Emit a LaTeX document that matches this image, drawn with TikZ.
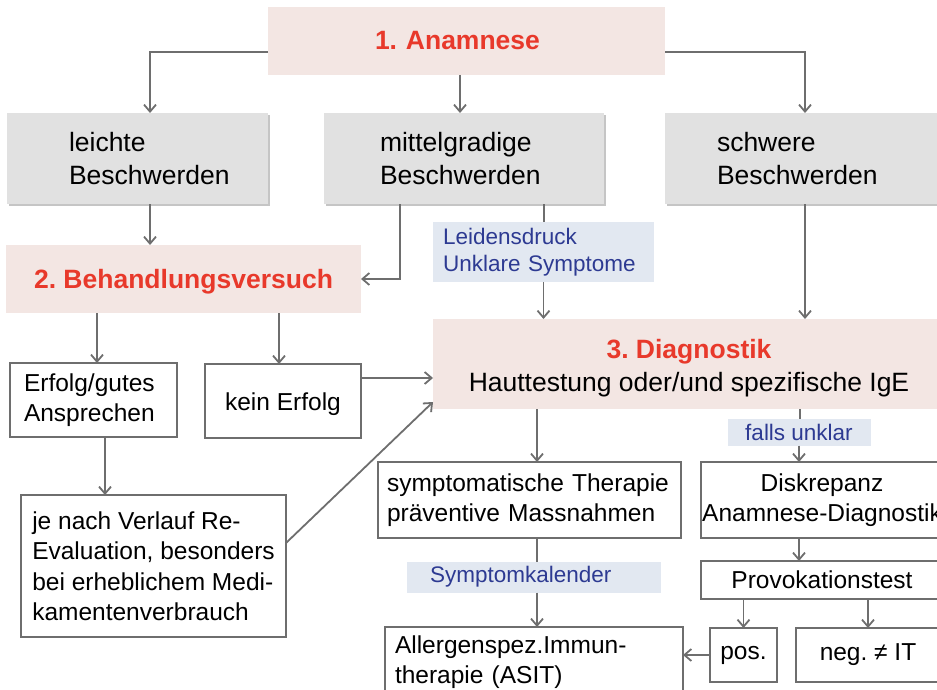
\documentclass[tikz,border=0pt]{standalone}
\usepackage{fontspec}
\setmainfont{Liberation Sans}
\usetikzlibrary{arrows.meta,shadows}
\definecolor{pinkfill}{HTML}{F3E6E3}
\definecolor{grayfill}{HTML}{E1E1E1}
\definecolor{lblfill}{HTML}{E2E8F1}
\definecolor{lbltext}{HTML}{2D3A92}
\definecolor{redtxt}{HTML}{E8392B}
\definecolor{linegray}{HTML}{6E6E6E}
\begin{document}
\frenchspacing
\begin{tikzpicture}[x=1pt,y=-1pt,
  base/.style={inner sep=0pt, outer sep=0pt, execute at begin node={\hyphenpenalty=10000\relax}},
  pinkbox/.style={base, fill=pinkfill, align=center},
  graybox/.style={base, fill=grayfill, align=left,
    drop shadow={shadow xshift=1.5pt, shadow yshift=-2pt, fill=black!45, opacity=0.5}},
  whitebox/.style={base, draw=linegray, line width=1.6pt, fill=white},
  lbl/.style={base, fill=lblfill, text=lbltext},
  ln/.style={draw=linegray, line width=1.8pt},
  arr/.style={ln, -{Straight Barb[length=7pt,width=12pt]}},
  bigf/.style={font=\fontsize{26.5}{33}\selectfont},
  midf/.style={font=\fontsize{24.5}{30.5}\selectfont},
  lblf/.style={font=\fontsize{22.5}{27}\selectfont},
]
\useasboundingbox (0,0) rectangle (937,690);
\fill[white] (0,0) rectangle (937,690);
\clip (0,0) rectangle (937,690);

% row 1
\node[pinkbox, bigf, text=redtxt, minimum width=397, minimum height=68, text width=183, align=left] (anam) at (466.5,41) {\textbf{1. Anamnese}};

% row 2
\node[graybox, bigf, minimum width=261, minimum height=91, text width=137] (leicht) at (137.5,158.5) {leichte\\Beschwerden};
\node[graybox, bigf, minimum width=280, minimum height=91, text width=168] (mittel) at (464,158.5) {mittelgradige\\Beschwerden};
\node[graybox, bigf, minimum width=295, minimum height=91, text width=191] (schwer) at (812.5,158.5) {schwere\\Beschwerden};

% row 3
\node[pinkbox, bigf, text=redtxt, minimum width=355, minimum height=68] (behand) at (183.5,279) {\rule{0pt}{25.5pt}\textbf{2. Behandlungsversuch}};
\node[lbl, lblf, minimum width=221, minimum height=60, text width=201, align=left] (leid) at (543.5,252) {Leidensdruck\\Unklare Symptome};
\node[pinkbox, bigf, minimum width=512, minimum height=90] (diag) at (689,364) {\rule{0pt}{28pt}\textcolor{redtxt}{\textbf{3. Diagnostik}}\\Hauttestung oder/und spezifische IgE};

% row 4
\node[whitebox, midf, minimum width=167, minimum height=74, text width=139, align=left] (erfolg) at (93.5,400) {Erfolg/gutes\\Ansprechen};
\node[whitebox, midf, minimum width=156, minimum height=74] (kein) at (283,401) {\rule{0pt}{25pt}kein Erfolg};
\node[lbl, lblf, minimum width=143, minimum height=27] (falls) at (799,432) {falls unklar};

% row 5
\node[whitebox, midf, minimum width=265, minimum height=142, align=left] (jenach) at (153.5,566) {je nach Verlauf Re-\\Evaluation, besonders\\bei erheblichem Medi-\\kamentenverbrauch};
\node[whitebox, midf, minimum width=303, minimum height=76, text width=285, align=left] (sympt) at (529.5,500) {symptomatische Therapie\\präventive Massnahmen};
\node[whitebox, midf, minimum width=242, minimum height=76, align=center] (disk) at (822,500) {Diskrepanz\\Anamnese-Diagnostik};
\node[whitebox, midf, minimum width=242, minimum height=38] (prov) at (822,580) {Provokationstest};
\node[lbl, lblf, minimum width=254, minimum height=31, text width=208, align=left] (symk) at (534,577) {Symptomkalender};

% row 6
\node[whitebox, midf, minimum width=298, minimum height=70, text width=278, align=left] (allerg) at (534,662) {Allergenspez.Immun-\\therapie (ASIT)};
\node[whitebox, midf, minimum width=67, minimum height=54] (pos) at (743.5,655) {pos.};
\node[whitebox, midf, minimum width=144, minimum height=54] (neg) at (868,655) {neg. ≠ IT};

% connectors
\draw[arr] ([yshift=-11pt]anam.west) -| ([xshift=12.5pt]leicht.north);
\draw[arr] ([xshift=-6.5pt]anam.south) -- ([xshift=-6.5pt]anam.south |- mittel.north);
\draw[arr] ([yshift=-11pt]anam.east) -| ([xshift=-7.5pt]schwer.north);
\draw[arr] ([xshift=12.5pt]leicht.south) -- ([xshift=12.5pt]leicht.south |- behand.north);
\draw[arr] ([xshift=-64pt]mittel.south) |- (behand.east);
\draw[ln] ([xshift=80pt]mittel.south) -- ([xshift=80pt]mittel.south |- leid.north);
\draw[arr] (leid.south) -- (leid.south |- diag.north);
\draw[arr] ([xshift=-7.5pt]schwer.south) -- ([xshift=-7.5pt]schwer.south |- diag.north);
\draw[arr] ([xshift=3.5pt]behand.south -| erfolg.north) -- ([xshift=3.5pt]erfolg.north);
\draw[arr] ([xshift=-4pt]behand.south -| kein.north) -- ([xshift=-4pt]kein.north);
\draw[arr] ([yshift=23pt]kein.east) -- ([yshift=23pt]kein.east -| diag.west);
\draw[arr] ([xshift=11.5pt]erfolg.south) -- ([xshift=11.5pt]erfolg.south |- jenach.north);
\draw[arr] ([yshift=23pt]jenach.east) -- ([yshift=-38pt]diag.west);
\draw[arr] ([xshift=-152pt]diag.south) -- ([xshift=-152pt]diag.south |- sympt.north);
\draw[ln] ([xshift=111pt]diag.south) -- ([xshift=111pt]diag.south |- falls.north);
\draw[arr] (falls.south) -- (falls.south |- disk.north);
\draw[arr] (falls.south |- disk.south) -- (falls.south |- prov.north);
\draw[ln] ([xshift=7.5pt]sympt.south) -- ([xshift=7.5pt]sympt.south |- symk.north);
\draw[arr] ([xshift=7.5pt]sympt.south |- symk.south) -- ([xshift=7.5pt]sympt.south |- allerg.north);
\draw[arr] (pos.north |- prov.south) -- (pos.north);
\draw[arr] (neg.north |- prov.south) -- (neg.north);
\draw[arr] (pos.west) -- (pos.west -| allerg.east);
\end{tikzpicture}
\end{document}
